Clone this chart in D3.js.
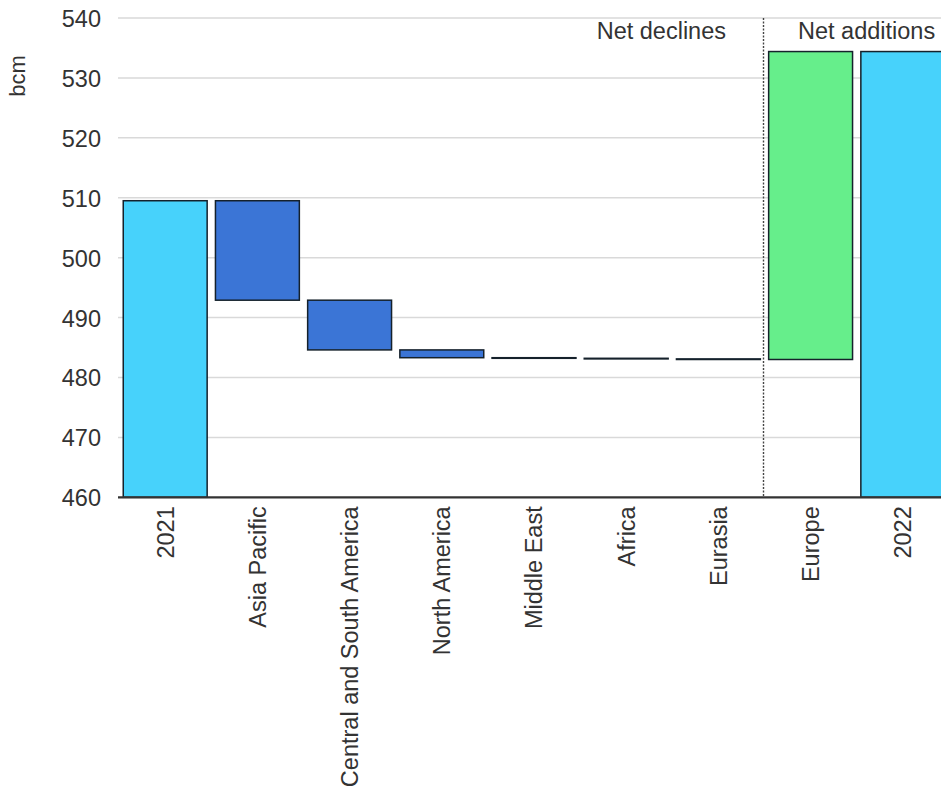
<!DOCTYPE html>
<html>
<head>
<meta charset="utf-8">
<script src="https://cdn.jsdelivr.net/npm/d3@7"></script>
<style>
  html, body { margin: 0; padding: 0; background: #fff; }
  svg { display: block; font-family: "Liberation Sans", Arial, sans-serif; }
</style>
</head>
<body>
<svg id="chart" width="941" height="797"></svg>
<script>
// Regional gas demand change, 2021 to 2022 (bcm)
const categories = ["2021", "Asia Pacific", "Central and South America", "North America",
                    "Middle East", "Africa", "Eurasia", "Europe", "2022"];
const startTotal = 509.5;
const changes = [-16.6, -8.3, -1.3, -0.1, -0.1, -0.1, 51.4];
const endTotal = 534.4;
const yTicks = [460, 470, 480, 490, 500, 510, 520, 530, 540];
const groupLabels = ["Net declines", "Net additions"];

const colors = { total: "#47d2fb", decrease: "#3b75d6", increase: "#66ee8b" };
const textColor = "#333";
const fontSize = 23.5;

// Build waterfall segments
const segments = [];
segments.push({ cat: categories[0], y0: yTicks[0], y1: startTotal, kind: "total" });
let running = startTotal;
changes.forEach((c, i) => {
  const next = running + c;
  segments.push({ cat: categories[i + 1], y0: Math.min(running, next), y1: Math.max(running, next),
                  kind: c < 0 ? "decrease" : "increase" });
  running = next;
});
segments.push({ cat: categories[categories.length - 1], y0: yTicks[0], y1: endTotal, kind: "total" });

const svg = d3.select("#chart");
const plotLeft = 118, plotRight = 941, plotTop = 18, plotBottom = 497.3;

const x = d3.scaleBand().domain(categories).range([119.1, 948.9])
  .paddingInner(0.09).paddingOuter(0.045);
const y = d3.scaleLinear().domain([460, 540]).range([plotBottom, plotTop]);

// Gridlines
svg.append("g").selectAll("line").data(yTicks.slice(1)).join("line")
  .attr("x1", plotLeft).attr("x2", plotRight)
  .attr("y1", d => y(d)).attr("y2", d => y(d))
  .attr("stroke", "#d9d9d9").attr("stroke-width", 1.5);

// Y axis labels
const yAxis = d3.axisLeft(y).tickValues(yTicks).tickSize(0).tickPadding(0);
const yg = svg.append("g").attr("transform", `translate(101,0)`).call(yAxis);
yg.select(".domain").remove();
yg.selectAll("text").attr("font-size", fontSize).attr("fill", textColor)
  .attr("font-family", "Liberation Sans, Arial, sans-serif").attr("dy", "0.36em");

svg.append("text").attr("transform", "translate(25,76) rotate(-90)")
  .attr("text-anchor", "middle").attr("font-size", 22).attr("fill", textColor).text("bcm");

// Divider between declines and additions
const divX = x(categories[7]) - x.step() * x.paddingInner() / 2 - 1;
svg.append("line").attr("x1", divX).attr("x2", divX).attr("y1", plotTop).attr("y2", plotBottom)
  .attr("stroke", "#444").attr("stroke-width", 1.4).attr("stroke-dasharray", "2,1.5");

// Bars
svg.append("g").selectAll("rect").data(segments).join("rect")
  .attr("x", d => x(d.cat)).attr("width", x.bandwidth())
  .attr("y", d => y(d.y1)).attr("height", d => Math.max(0.01, y(d.y0) - y(d.y1)))
  .attr("fill", d => colors[d.kind])
  .attr("stroke", "#15212b").attr("stroke-width", 1.5);

// X axis line
svg.append("line").attr("x1", plotLeft).attr("x2", plotRight)
  .attr("y1", plotBottom).attr("y2", plotBottom)
  .attr("stroke", "#333").attr("stroke-width", 2.2);

// X labels, rotated
const xAxis = d3.axisBottom(x).tickSize(0).tickPadding(0);
const xg = svg.append("g").attr("transform", `translate(0,${plotBottom})`).call(xAxis);
xg.select(".domain").remove();
xg.selectAll("text")
  .attr("font-size", fontSize).attr("fill", textColor)
  .attr("font-family", "Liberation Sans, Arial, sans-serif")
  .attr("text-anchor", "end")
  .attr("transform", "rotate(-90)")
  .attr("x", -9).attr("y", 0).attr("dy", "0.36em");

// Group labels
svg.append("text").attr("x", 726).attr("y", 39).attr("text-anchor", "end")
  .attr("font-size", fontSize).attr("fill", textColor).text(groupLabels[0]);
svg.append("text").attr("x", 798).attr("y", 39).attr("text-anchor", "start")
  .attr("font-size", fontSize).attr("fill", textColor).text(groupLabels[1]);
</script>
</body>
</html>
